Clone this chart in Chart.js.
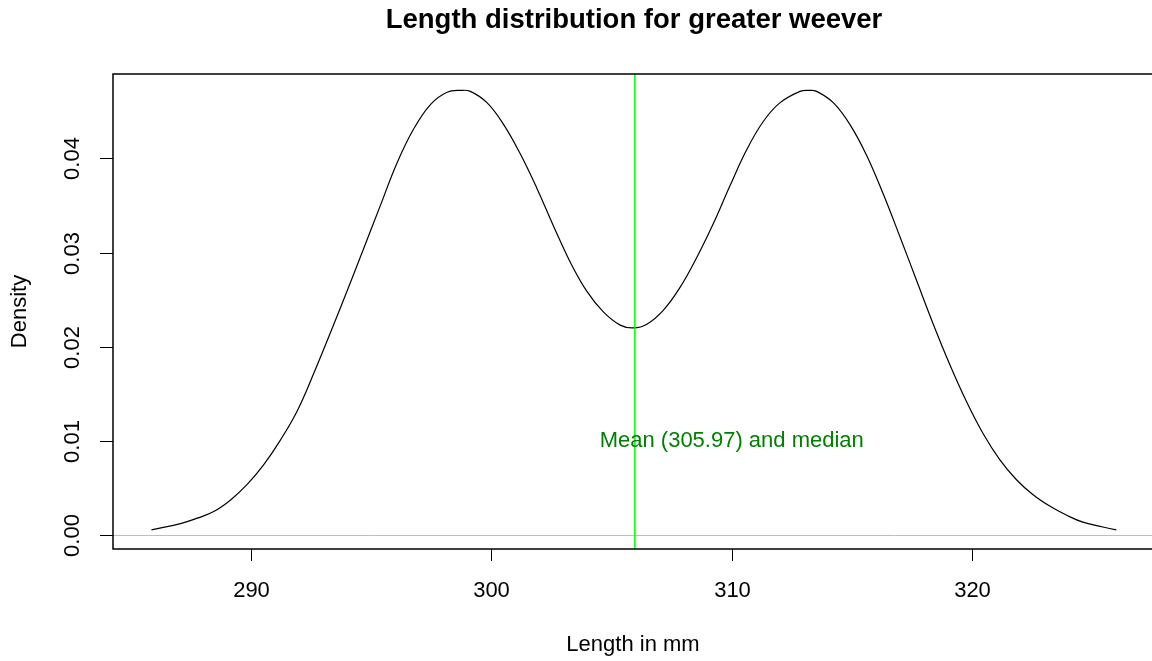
<!DOCTYPE html>
<html>
<head>
<meta charset="utf-8">
<title>Length distribution for greater weever</title>
<script src="https://cdn.jsdelivr.net/npm/chart.js@4.4.1/dist/chart.umd.min.js"></script>
<style>
    html, body { margin: 0; padding: 0; background: #fff; overflow: hidden; }
    #wrap { width: 1170px; height: 661px; }
</style>
</head>
<body>
<div id="wrap"><canvas id="densityChart" width="1170" height="661"></canvas></div>
<script>
// kernel density of fish length (mm)
const lengthMm = [
    285.87, 287.08, 287.77, 288.46, 289.16, 289.85, 290.54, 291.23, 291.93, 292.62, 293.31,
    294.00, 294.69, 295.39, 296.08, 296.77, 297.47, 298.16, 298.71, 299.13, 299.82,
    300.51, 301.20, 301.90, 302.59, 303.28, 303.97, 304.66, 305.36, 305.91, 306.47,
    307.16, 307.85, 308.55, 309.24, 309.93, 310.62, 311.31, 312.01, 312.84, 313.20,
    313.53, 314.22, 314.91, 315.61, 316.30, 316.99, 317.69, 318.38, 319.07, 319.76,
    320.45, 321.15, 321.84, 322.53, 323.22, 323.91, 324.60, 325.99
];
const densityValues = [
    0.00057, 0.00125, 0.00182, 0.00252, 0.00375, 0.00540, 0.00750, 0.01010, 0.01320, 0.01720, 0.02150,
    0.02590, 0.03040, 0.03500, 0.03950, 0.04310, 0.04570, 0.04700, 0.04720, 0.04710, 0.04590,
    0.04360, 0.04050, 0.03680, 0.03280, 0.02900, 0.02590, 0.02370, 0.02230, 0.02200, 0.02240,
    0.02390, 0.02630, 0.02950, 0.03310, 0.03710, 0.04090, 0.04390, 0.04590, 0.04710, 0.04720,
    0.04710, 0.04590, 0.04360, 0.04030, 0.03620, 0.03170, 0.02700, 0.02240, 0.01810, 0.01420,
    0.01080, 0.00800, 0.00590, 0.00430, 0.00310, 0.00215, 0.00140, 0.00057
];
const xTickValues = [290, 300, 310, 320];
const yTickValues = [0, 0.01, 0.02, 0.03, 0.04];
const meanLength = 305.97;
const noteX = 310;
const noteY = 0.01;
const noteText = 'Mean (' + meanLength.toFixed(2) + ') and median';

const FONT = '"Liberation Sans", Arial, sans-serif';

// axes, box, reference lines and labels in base-graphics style
const basePlot = {
    id: 'basePlot',
    afterDatasetsDraw(chart) {
        const ctx = chart.ctx;
        const area = chart.chartArea;
        const xs = chart.scales.x;
        const ys = chart.scales.y;
        ctx.save();

        // zero line
        const y0 = Math.round(ys.getPixelForValue(0)) + 0.5;
        ctx.strokeStyle = '#bebebe';
        ctx.lineWidth = 1;
        ctx.beginPath();
        ctx.moveTo(area.left, y0);
        ctx.lineTo(area.right, y0);
        ctx.stroke();

        // mean line
        const xm = xs.getPixelForValue(meanLength);
        ctx.strokeStyle = '#00ff00';
        ctx.lineWidth = 1.5;
        ctx.beginPath();
        ctx.moveTo(xm, area.top);
        ctx.lineTo(xm, area.bottom);
        ctx.stroke();

        // note text
        ctx.fillStyle = '#008000';
        ctx.font = '22px ' + FONT;
        ctx.textAlign = 'center';
        ctx.textBaseline = 'middle';
        ctx.fillText(noteText, xs.getPixelForValue(noteX), ys.getPixelForValue(noteY));

        // box
        ctx.strokeStyle = '#000';
        ctx.lineWidth = 1.5;
        ctx.strokeRect(area.left, area.top, area.right - area.left, area.bottom - area.top);

        // x axis ticks and labels
        ctx.lineWidth = 1;
        ctx.fillStyle = '#000';
        ctx.font = '22px ' + FONT;
        ctx.textAlign = 'center';
        ctx.textBaseline = 'middle';
        xTickValues.forEach(v => {
            const px = Math.round(xs.getPixelForValue(v)) + 0.5;
            ctx.beginPath();
            ctx.moveTo(px, area.bottom);
            ctx.lineTo(px, area.bottom + 12);
            ctx.stroke();
            ctx.fillText(String(v), px, 591);
        });

        // y axis ticks and rotated labels
        yTickValues.forEach(v => {
            const py = Math.round(ys.getPixelForValue(v)) + 0.5;
            ctx.beginPath();
            ctx.moveTo(area.left, py);
            ctx.lineTo(area.left - 13, py);
            ctx.stroke();
            ctx.save();
            ctx.translate(73, py);
            ctx.rotate(-Math.PI / 2);
            ctx.fillText(v.toFixed(2), 0, 0);
            ctx.restore();
        });

        // axis titles
        ctx.fillText('Length in mm', (area.left + area.right) / 2 - 1, 645);
        ctx.save();
        ctx.translate(20, (area.top + area.bottom) / 2);
        ctx.rotate(-Math.PI / 2);
        ctx.fillText('Density', 0, 0);
        ctx.restore();

        // main title
        ctx.font = 'bold 27.5px ' + FONT;
        ctx.fillText('Length distribution for greater weever', (area.left + area.right) / 2, 20);

        ctx.restore();
    }
};

new Chart(document.getElementById('densityChart').getContext('2d'), {
    type: 'line',
    data: {
        datasets: [{
            data: lengthMm.map((x, i) => ({ x: x, y: densityValues[i] })),
            borderColor: '#000',
            borderWidth: 1.2,
            pointRadius: 0,
            fill: false,
            tension: 0.4
        }]
    },
    options: {
        responsive: false,
        animation: false,
        layout: { padding: { left: 113, top: 74, right: 15, bottom: 112 } },
        plugins: {
            legend: { display: false },
            tooltip: { enabled: false }
        },
        scales: {
            x: { type: 'linear', min: 284.27, max: 327.6, display: false },
            y: { type: 'linear', min: -0.00145, max: 0.04894, display: false }
        }
    },
    plugins: [basePlot]
});
</script>
</body>
</html>
